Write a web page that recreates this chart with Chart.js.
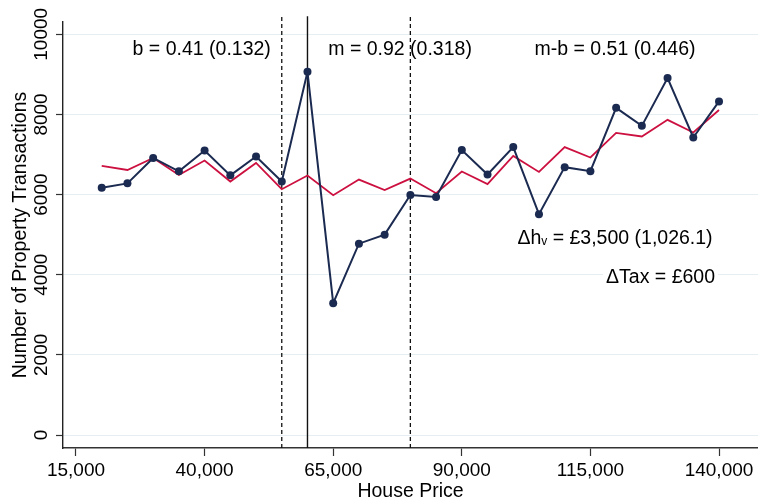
<!DOCTYPE html>
<html>
<head>
<meta charset="utf-8">
<script src="https://cdn.jsdelivr.net/npm/chart.js@4.4.1/dist/chart.umd.min.js"></script>
<style>
  html, body { margin: 0; padding: 0; background: #fff; }
  #wrap { width: 758px; height: 499px; }
</style>
</head>
<body>
<div id="wrap"><canvas id="myChart" width="758" height="499"></canvas></div>
<script>
'use strict';

// house price bins (x) and transaction counts
const housePrices = [20000, 25000, 30000, 35000, 40000, 45000, 50000, 55000, 60000, 65000,
  70000, 75000, 80000, 85000, 90000, 95000, 100000, 105000, 110000, 115000,
  120000, 125000, 130000, 135000, 140000];
const observed = [6170, 6280, 6915, 6580, 7100, 6480, 6950, 6325, 9065, 3290,
  4775, 5000, 5990, 5940, 7110, 6500, 7185, 5510, 6685, 6585,
  8165, 7715, 8910, 7425, 8325];
const counterfactual = [6715, 6615, 6915, 6490, 6850, 6325, 6790, 6135, 6475, 5985,
  6375, 6115, 6400, 6035, 6575, 6260, 6965, 6565, 7185, 6925,
  7540, 7450, 7865, 7550, 8110];

// bunching window edges and threshold
const dashedCuts = [55000, 80000];
const solidCut = 60000;

const xTicks = [15000, 40000, 65000, 90000, 115000, 140000];
const yTicks = [0, 2000, 4000, 6000, 8000, 10000];

const xMin = 12473, xMax = 147580;
const yMin = -324, yMax = 10307, lineTop = 10450;

// text notes (x centre, y baseline in data units)
const notes = [
  { x: 39440, y: 9480, text: 'b = 0.41 (0.132)' },
  { x: 78000, y: 9480, text: 'm = 0.92 (0.318)' },
  { x: 119780, y: 9480, text: 'm-b = 0.51 (0.446)' },
  { x: 119780, y: 4760, text: 'Δh', sub: 'v', after: ' = £3,500 (1,026.1)' },
  { x: 128630, y: 3785, text: 'ΔTax = £600', box: true }
];

const FONT = '"Liberation Sans", Arial, sans-serif';
const navy = '#1b2a50';
const red = '#cc1040';

function pts(xs, ys) {
  return xs.map((v, i) => ({ x: v, y: ys[i] }));
}

const datasets = [
  {
    data: pts(housePrices, observed),
    borderColor: navy,
    backgroundColor: navy,
    borderWidth: 2,
    pointRadius: 4,
    pointBorderWidth: 0,
    order: 0
  },
  {
    data: pts(housePrices, counterfactual),
    borderColor: red,
    borderWidth: 1.8,
    pointRadius: 0,
    order: 1
  }
];

dashedCuts.forEach(c => {
  datasets.push({
    data: [{ x: c, y: yMin }, { x: c, y: lineTop }],
    borderColor: '#111',
    borderWidth: 1.3,
    borderDash: [4, 3],
    pointRadius: 0,
    clip: false,
    order: 2
  });
});
datasets.push({
  data: [{ x: solidCut, y: yMin }, { x: solidCut, y: lineTop }],
  borderColor: '#111',
  borderWidth: 1.4,
  pointRadius: 0,
  clip: false,
  order: 2
});

const textPlugin = {
  id: 'texts',
  afterDraw(chart) {
    const ctx = chart.ctx;
    const x = chart.scales.x;
    const y = chart.scales.y;
    const area = chart.chartArea;
    ctx.save();
    ctx.fillStyle = '#000';

    // y tick labels, rotated
    ctx.font = '19px ' + FONT;
    ctx.textAlign = 'center';
    ctx.textBaseline = 'alphabetic';
    yTicks.forEach(v => {
      ctx.save();
      ctx.translate(46.5, y.getPixelForValue(v));
      ctx.rotate(-Math.PI / 2);
      ctx.fillText(String(v), 0, 0);
      ctx.restore();
    });

    // x tick labels
    xTicks.forEach(v => {
      ctx.fillText(v.toLocaleString('en-US'), x.getPixelForValue(v), 476);
    });

    // axis titles
    ctx.font = '19.5px ' + FONT;
    ctx.fillText('House Price', (area.left + area.right) / 2, 496.5);
    ctx.save();
    ctx.translate(25.5, (area.top + area.bottom) / 2);
    ctx.rotate(-Math.PI / 2);
    ctx.fillText('Number of Property Transactions', 0, 0);
    ctx.restore();

    // notes
    ctx.textAlign = 'left';
    notes.forEach(n => {
      const px = x.getPixelForValue(n.x);
      const py = y.getPixelForValue(n.y);
      ctx.font = '19.5px ' + FONT;
      let w = ctx.measureText(n.text).width;
      let wSub = 0, wAfter = 0;
      if (n.sub) {
        ctx.font = '12px ' + FONT;
        wSub = ctx.measureText(n.sub).width;
        ctx.font = '19.5px ' + FONT;
        wAfter = ctx.measureText(n.after).width;
      }
      const total = w + wSub + wAfter;
      let left = px - total / 2;
      if (n.box) {
        ctx.fillStyle = '#fff';
        ctx.fillRect(left - 3, py - 16, total + 6, 22);
        ctx.fillStyle = '#000';
      }
      ctx.fillText(n.text, left, py);
      if (n.sub) {
        ctx.font = '12px ' + FONT;
        ctx.fillText(n.sub, left + w, py + 1);
        ctx.font = '19.5px ' + FONT;
        ctx.fillText(n.after, left + w + wSub, py);
      }
    });
    ctx.restore();
  }
};

new Chart(document.getElementById('myChart'), {
  type: 'line',
  data: { datasets: datasets },
  options: {
    responsive: false,
    animation: false,
    devicePixelRatio: 1,
    layout: { autoPadding: false, padding: { top: 22, left: 0, right: 0, bottom: 0 } },
    plugins: { legend: { display: false }, tooltip: { enabled: false } },
    elements: { line: { tension: 0 } },
    scales: {
      x: {
        type: 'linear',
        min: xMin,
        max: xMax,
        afterBuildTicks: s => { s.ticks = xTicks.map(v => ({ value: v })); },
        afterFit: s => { s.height = 51; },
        ticks: { display: false },
        grid: { drawOnChartArea: false, drawTicks: true, tickLength: 8, tickColor: '#333', tickWidth: 1.2 },
        border: { display: true, color: '#333', width: 1.5 }
      },
      y: {
        type: 'linear',
        min: yMin,
        max: yMax,
        afterBuildTicks: s => { s.ticks = yTicks.map(v => ({ value: v })); },
        afterFit: s => { s.width = 63; },
        ticks: { display: false },
        grid: { color: '#e6eef1', lineWidth: 1, drawTicks: true, tickLength: 7, tickColor: '#333', tickWidth: 1.2 },
        border: { display: true, color: '#222', width: 1.4 }
      }
    }
  },
  plugins: [textPlugin]
});
</script>
</body>
</html>
